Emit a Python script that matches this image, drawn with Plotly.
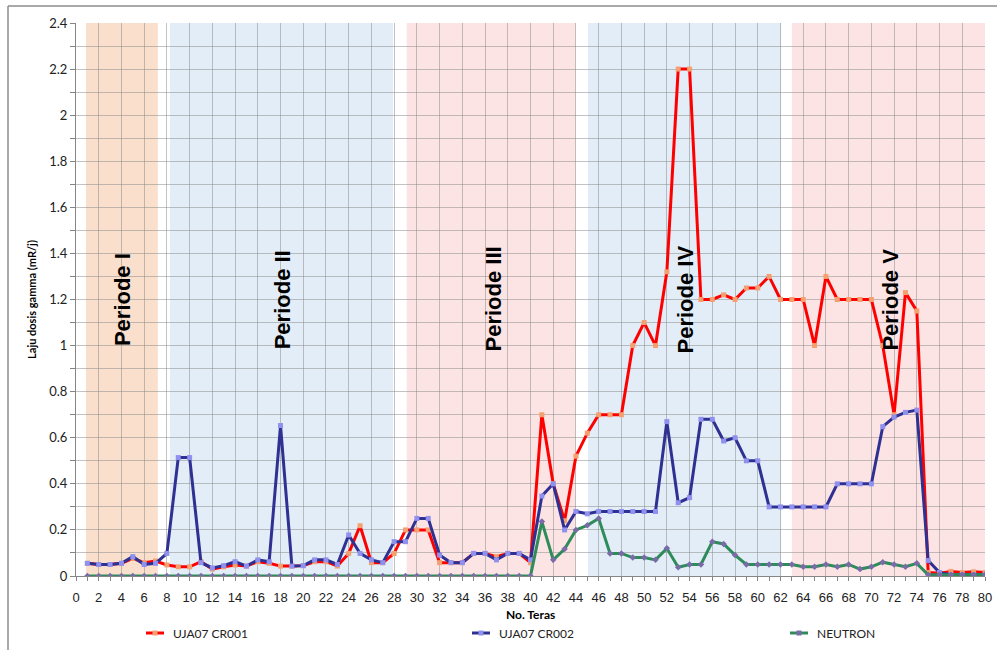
import plotly.graph_objects as go

teras = list(range(1, 81))

cr001 = [0.055, 0.05, 0.05, 0.055, 0.077, 0.058, 0.065, 0.048, 0.04, 0.04,
         0.062, 0.03, 0.04, 0.048, 0.043, 0.062, 0.055, 0.043, 0.043, 0.045,
         0.062, 0.062, 0.043, 0.098, 0.218, 0.058, 0.058, 0.098, 0.2, 0.2,
         0.2, 0.058, 0.058, 0.058, 0.098, 0.098, 0.084, 0.098, 0.098, 0.058,
         0.70, 0.40, 0.24, 0.52, 0.62, 0.70, 0.70, 0.70, 1.0, 1.1,
         1.0, 1.32, 2.2, 2.2, 1.2, 1.2, 1.22, 1.2, 1.25, 1.25,
         1.3, 1.2, 1.2, 1.2, 1.0, 1.3, 1.2, 1.2, 1.2, 1.2,
         1.0, 0.7, 1.23, 1.15, 0.015, 0.012, 0.02, 0.015, 0.018, 0.015]

cr002 = [0.055, 0.05, 0.05, 0.055, 0.084, 0.05, 0.055, 0.098, 0.514, 0.514,
         0.058, 0.035, 0.045, 0.062, 0.043, 0.07, 0.062, 0.653, 0.043, 0.045,
         0.07, 0.07, 0.05, 0.178, 0.098, 0.07, 0.058, 0.149, 0.149, 0.25,
         0.25, 0.091, 0.058, 0.058, 0.098, 0.098, 0.07, 0.098, 0.098, 0.07,
         0.347, 0.40, 0.2, 0.28, 0.27, 0.28, 0.28, 0.28, 0.28, 0.28,
         0.28, 0.67, 0.318, 0.34, 0.68, 0.68, 0.586, 0.60, 0.50, 0.50,
         0.30, 0.30, 0.30, 0.30, 0.30, 0.30, 0.40, 0.40, 0.40, 0.40,
         0.648, 0.69, 0.71, 0.72, 0.067, 0.015, 0.005, 0.005, 0.005, 0.005]

neutron = [0.0] * 40 + [
    0.236, 0.07, 0.117, 0.2, 0.22, 0.25, 0.098, 0.098, 0.08, 0.08,
    0.07, 0.12, 0.038, 0.05, 0.05, 0.149, 0.139, 0.091, 0.05, 0.05,
    0.05, 0.05, 0.05, 0.04, 0.04, 0.05, 0.04, 0.05, 0.03, 0.04,
    0.06, 0.05, 0.04, 0.055, 0.005, 0.005, 0.005, 0.005, 0.005, 0.005]

series_names = ["UJA07 CR001", "UJA07 CR002", "NEUTRON"]
series_values = [cr001, cr002, neutron]
line_colors = ["#FF0000", "#2E3092", "#2E8B5A"]
marker_colors = ["#F4A070", "#9090EE", "#7A6AA8"]
marker_symbols = ["square", "square", "diamond"]

periods = ["Periode I", "Periode II", "Periode III", "Periode IV", "Periode V"]
period_start = [0.88, 8.27, 29.1, 45.05, 63.0]
period_end = [7.2, 27.9, 43.97, 62.06, 80.0]
period_label_x = [4.1, 18.2, 36.7, 53.6, 71.65]
period_colors = ["#F9DFCC", "#E3EDF7", "#FDE4E4", "#E3EDF7", "#FDE4E4"]

# layout geometry (pixels)
W, H = 997, 650
ML, MR, MT, MB = 76, 12, 23, 74
PW, PH = W - ML - MR, H - MT - MB


def px_x(p):
    return (p - ML) / PW


def px_y(q):
    return (H - MB - q) / PH


fig = go.Figure()

for name, vals, lc, mc, ms in zip(series_names, series_values, line_colors,
                                  marker_colors, marker_symbols):
    fig.add_trace(go.Scatter(
        x=teras, y=vals, name=name, mode="lines+markers",
        line=dict(color=lc, width=3),
        marker=dict(symbol=ms, size=5, color=mc),
        showlegend=False))

for s, e, c in zip(period_start, period_end, period_colors):
    fig.add_shape(type="rect", xref="x", yref="y", x0=s, x1=e, y0=0, y1=2.4,
                  fillcolor=c, line=dict(width=0), layer="below")

for lbl, lx in zip(periods, period_label_x):
    fig.add_annotation(x=lx, y=1.2, xref="x", yref="y", text="<b>" + lbl + "</b>",
                       textangle=-90, showarrow=False,
                       font=dict(family="Liberation Sans, Arial", size=22, color="#000000"))

# outer chart frame (top and left)
fig.add_shape(type="line", xref="paper", yref="paper",
              x0=px_x(8), x1=px_x(1000), y0=px_y(6), y1=px_y(6),
              line=dict(color="#8C8C8C", width=1.5))
fig.add_shape(type="line", xref="paper", yref="paper",
              x0=px_x(8), x1=px_x(8), y0=px_y(6), y1=px_y(655),
              line=dict(color="#8C8C8C", width=1.5))

# manual legend
leg_y = 633
leg_line_x = [(146, 164), (472, 490), (790, 808)]
for (x0, x1), name, lc, mc in zip(leg_line_x, series_names, line_colors, marker_colors):
    fig.add_shape(type="line", xref="paper", yref="paper",
                  x0=px_x(x0), x1=px_x(x1), y0=px_y(leg_y), y1=px_y(leg_y),
                  line=dict(color=lc, width=3))
    xm = (x0 + x1) / 2
    fig.add_shape(type="rect", xref="paper", yref="paper",
                  x0=px_x(xm - 2.5), x1=px_x(xm + 2.5),
                  y0=px_y(leg_y + 2.5), y1=px_y(leg_y - 2.5),
                  fillcolor=mc, line=dict(width=0))
    fig.add_annotation(x=px_x(x1 + 7), y=px_y(leg_y), xref="paper", yref="paper",
                       text=name, showarrow=False, xanchor="left", yanchor="middle",
                       font=dict(family="Lato, Calibri, sans-serif", size=12, color="#222222"))

# x-axis title
fig.add_annotation(x=0.5, y=px_y(614), xref="paper", yref="paper",
                   text="<b>No. Teras</b>", showarrow=False, yanchor="middle",
                   font=dict(family="Lato, Calibri, sans-serif", size=12, color="#000000"))

grid_c = "rgba(135,135,135,0.5)"

fig.update_layout(
    width=W, height=H,
    margin=dict(l=ML, r=MR, t=MT, b=MB, autoexpand=False),
    paper_bgcolor="white", plot_bgcolor="white",
    showlegend=False,
    xaxis=dict(range=[0, 80], dtick=2, tick0=0, showgrid=True, gridcolor=grid_c,
               gridwidth=1, zeroline=False, automargin=False,
               showline=True, linecolor="#868686", linewidth=1,
               ticks="outside", ticklen=4, tickcolor="#868686",
               ticklabelstandoff=5,
               minor=dict(dtick=1, ticks="outside", ticklen=4, tickcolor="#868686", showgrid=False),
               tickfont=dict(family="Liberation Sans Narrow, Arial Narrow, sans-serif", size=13, color="#222222")),
    yaxis=dict(range=[0, 2.4], dtick=0.2, tick0=0, showgrid=True, gridcolor=grid_c,
               gridwidth=1, zeroline=False, automargin=False,
               showline=True, linecolor="#868686", linewidth=1,
               ticks="outside", ticklen=5, tickcolor="#868686",
               minor=dict(dtick=0.1, ticks="outside", ticklen=5, tickcolor="#868686",
                          showgrid=True, gridcolor=grid_c, gridwidth=1),
               tickformat="~g",
               tickfont=dict(family="Lato, Calibri, sans-serif", size=13, color="#222222"),
               title=dict(text="<b>Laju dosis gamma (mR/j)</b>", standoff=10,
                          font=dict(family="Lato, Calibri, sans-serif", size=11, color="#000000"))),
)

fig.write_html("out.html")
